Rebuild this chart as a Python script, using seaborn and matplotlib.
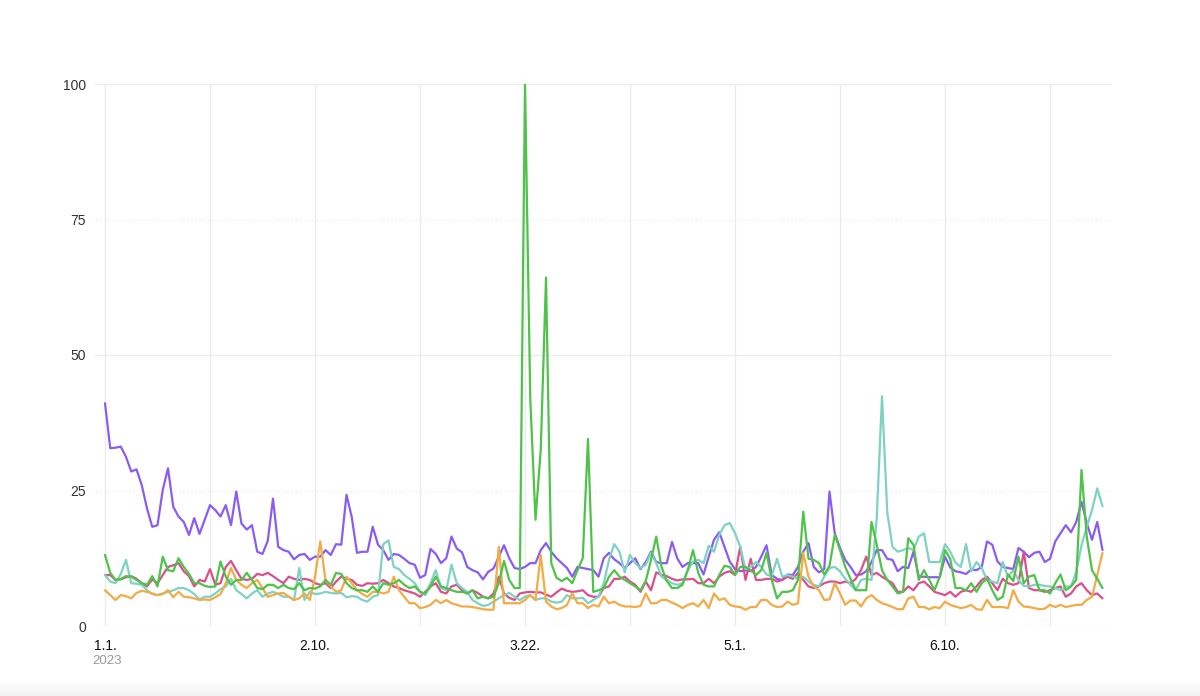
import numpy as np
import pandas as pd
import matplotlib
matplotlib.use("Agg")
import matplotlib.pyplot as plt
import seaborn as sns

# ---------------- data ----------------
start_date = "2023-01-01"
n_days = 191

purple = [41.1, 32.8, 32.9, 33.1, 31.2, 28.5, 28.9, 26.0, 21.7, 18.3,
          18.6, 25.1, 29.1, 22.0, 20.2, 19.2, 16.8, 19.9, 17.0, 19.6,
          22.3, 21.4, 20.2, 22.3, 18.6, 24.8, 18.9, 17.8, 18.6, 13.7,
          13.3, 15.7, 23.5, 14.6, 14.0, 13.7, 12.3, 13.1, 13.3, 12.2,
          12.8, 12.8, 14.0, 13.1, 15.1, 15.0, 24.2, 20.1, 13.5, 13.7,
          13.7, 18.3, 15.0, 14.0, 12.2, 13.3, 13.1, 12.4, 11.6, 11.3,
          8.9, 9.4, 14.2, 13.3, 11.6, 12.5, 16.5, 14.3, 13.6, 10.9,
          10.3, 9.9, 8.6, 10.0, 10.6, 12.8, 14.9, 12.5, 10.7, 10.5,
          10.9, 11.6, 11.6, 14.0, 15.3, 13.7, 12.5, 11.6, 10.7, 9.1,
          10.9, 10.7, 10.5, 10.3, 9.1, 12.5, 13.5, 12.3, 11.6, 10.7,
          11.6, 12.5, 10.5, 11.8, 13.7, 11.8, 11.6, 11.6, 15.5, 12.5,
          10.9, 11.6, 11.6, 11.6, 9.5, 12.8, 15.9, 17.3, 14.6, 11.9,
          10.5, 10.1, 10.3, 10.1, 10.9, 12.8, 14.9, 9.4, 8.7, 8.5,
          9.5, 9.4, 10.9, 13.7, 15.3, 10.9, 9.9, 10.5, 24.8, 17.1,
          14.4, 12.2, 10.9, 9.4, 9.5, 10.1, 11.8, 14.0, 14.0, 12.4,
          12.2, 10.1, 10.9, 10.7, 13.7, 9.1, 9.1, 9.0, 9.0, 9.0,
          12.8, 10.8, 10.1, 9.9, 9.6, 10.4, 10.3, 10.9, 15.6, 15.0,
          11.9, 10.9, 10.7, 10.5, 14.4, 13.7, 12.7, 13.5, 13.7, 11.8,
          12.4, 15.6, 17.1, 18.6, 17.3, 19.2, 22.9, 19.0, 15.9, 19.2,
          14.0]

green = [13.1, 9.8, 8.5, 8.7, 9.2, 9.1, 8.5, 7.9, 7.6, 9.2,
         7.3, 12.8, 10.3, 10.1, 12.5, 10.9, 9.6, 7.9, 7.9, 7.4,
         7.2, 7.3, 11.9, 9.1, 7.6, 8.5, 8.5, 9.8, 8.5, 7.0,
         6.8, 7.6, 7.6, 7.0, 7.6, 7.0, 6.8, 7.9, 6.6, 7.0,
         6.9, 7.3, 8.5, 7.6, 9.8, 9.6, 7.9, 7.0, 6.6, 6.6,
         6.3, 7.3, 6.3, 7.9, 7.6, 7.9, 8.5, 7.6, 7.0, 7.3,
         6.3, 6.0, 7.3, 9.1, 7.3, 7.0, 6.6, 6.3, 6.3, 6.0,
         6.6, 5.1, 5.4, 5.1, 5.4, 7.9, 12.0, 8.5, 7.0, 7.0,
         100.0, 42.0, 19.6, 32.5, 64.3, 11.6, 8.9, 8.3, 8.9, 7.9,
         10.3, 12.5, 34.5, 6.3, 6.6, 7.0, 9.1, 10.3, 9.1, 8.5,
         7.9, 7.3, 6.6, 8.3, 12.2, 16.5, 10.9, 8.3, 7.0, 7.0,
         7.6, 10.3, 14.0, 9.8, 7.6, 7.3, 7.3, 9.4, 11.1, 10.9,
         9.4, 10.9, 10.9, 10.3, 9.4, 10.3, 13.5, 8.5, 5.1, 6.3,
         6.3, 6.6, 8.5, 21.1, 12.4, 12.2, 11.6, 9.5, 11.1, 16.8,
         14.0, 10.9, 8.7, 6.6, 6.6, 6.6, 19.2, 15.0, 10.3, 8.5,
         7.3, 6.0, 6.3, 16.2, 15.0, 8.5, 10.3, 8.5, 6.6, 9.1,
         14.0, 12.4, 7.0, 7.0, 6.6, 7.9, 6.3, 7.9, 8.7, 6.6,
         4.8, 5.4, 9.5, 8.3, 12.8, 7.9, 9.1, 9.4, 6.6, 6.6,
         6.0, 7.9, 9.5, 6.6, 7.3, 8.5, 28.8, 16.5, 10.3, 8.7,
         7.0]

teal = [9.4, 8.2, 7.9, 9.6, 12.2, 7.9, 7.8, 7.6, 6.6, 5.9,
        5.7, 6.0, 6.3, 6.6, 7.0, 7.0, 6.6, 5.9, 4.9, 5.4,
        5.4, 6.0, 6.8, 7.3, 8.7, 6.6, 5.9, 5.1, 6.0, 6.6,
        5.4, 6.0, 6.3, 5.9, 5.4, 5.4, 4.8, 10.7, 4.8, 6.3,
        5.9, 6.0, 6.3, 6.1, 6.0, 6.1, 5.3, 5.5, 5.4, 4.8,
        4.5, 5.4, 5.7, 15.1, 15.8, 10.9, 10.5, 9.4, 8.7, 7.9,
        6.3, 5.7, 7.9, 10.3, 7.0, 6.6, 11.3, 7.9, 7.0, 6.3,
        4.8, 4.2, 3.7, 3.9, 4.5, 5.1, 5.7, 6.1, 5.4, 4.8,
        5.4, 5.7, 4.8, 5.1, 5.1, 4.5, 4.3, 4.5, 5.7, 5.1,
        5.1, 5.2, 4.2, 4.8, 5.4, 7.9, 12.2, 15.1, 13.7, 9.9,
        13.1, 11.6, 10.7, 11.3, 13.5, 11.6, 9.1, 8.5, 7.9, 7.6,
        7.9, 10.3, 11.9, 12.2, 11.6, 14.8, 13.7, 16.8, 18.6, 19.0,
        17.1, 14.6, 10.5, 10.9, 11.8, 10.9, 9.5, 9.2, 12.4, 9.1,
        9.4, 9.1, 8.7, 9.1, 8.2, 7.6, 7.3, 9.1, 10.7, 10.9,
        10.1, 8.7, 7.6, 6.6, 8.5, 8.7, 8.5, 20.0, 42.4, 21.0,
        14.6, 13.7, 14.0, 14.4, 14.0, 16.5, 17.1, 11.8, 11.8, 11.8,
        15.1, 13.7, 11.7, 10.9, 15.1, 10.1, 11.8, 10.7, 8.5, 8.2,
        7.9, 11.8, 9.1, 10.3, 8.5, 7.4, 7.3, 7.6, 7.6, 7.4,
        7.3, 7.0, 6.6, 7.3, 7.3, 10.0, 14.9, 18.3, 21.4, 25.4,
        22.1]

pink = [9.4, 9.4, 8.5, 8.6, 9.0, 9.2, 8.7, 7.9, 7.3, 8.6,
        7.9, 9.4, 10.9, 11.2, 11.6, 10.1, 9.2, 7.3, 8.5, 8.2,
        10.5, 7.6, 7.9, 10.9, 12.0, 10.3, 8.7, 8.5, 8.7, 9.6,
        9.4, 9.8, 9.2, 8.5, 7.9, 9.1, 8.7, 8.5, 8.7, 8.5,
        7.9, 7.6, 7.9, 7.0, 8.2, 9.1, 8.7, 8.5, 7.6, 7.4,
        7.9, 7.8, 7.9, 8.5, 7.9, 7.3, 7.0, 6.6, 6.3, 6.0,
        5.4, 6.3, 7.3, 7.9, 6.3, 6.0, 7.3, 7.6, 6.6, 6.0,
        6.6, 6.1, 5.4, 5.1, 6.0, 9.1, 6.0, 5.2, 4.8, 6.0,
        6.2, 6.3, 6.2, 6.2, 5.8, 5.4, 6.2, 6.9, 6.5, 6.3,
        6.4, 6.6, 5.7, 5.4, 5.4, 7.0, 7.3, 8.7, 8.7, 9.1,
        8.2, 7.6, 6.3, 8.2, 6.6, 9.9, 9.4, 9.2, 8.7, 8.4,
        8.6, 8.6, 8.7, 7.9, 7.9, 8.7, 7.9, 9.1, 9.8, 10.1,
        9.4, 14.6, 8.5, 12.4, 8.5, 8.5, 8.7, 8.7, 8.2, 8.5,
        9.1, 8.7, 9.8, 8.5, 7.3, 7.0, 7.3, 7.9, 8.2, 8.2,
        7.9, 8.2, 7.9, 8.7, 10.3, 12.8, 9.4, 9.8, 9.1, 8.5,
        7.9, 6.3, 6.3, 7.3, 6.6, 7.9, 8.2, 7.3, 6.3, 6.0,
        5.7, 6.3, 5.4, 6.3, 6.6, 6.3, 7.3, 8.5, 9.1, 7.9,
        6.6, 8.7, 7.9, 7.6, 7.9, 13.7, 7.0, 6.6, 6.6, 6.3,
        6.6, 7.0, 7.3, 5.4, 6.0, 7.3, 7.9, 6.6, 5.7, 6.0,
        5.1]

orange = [6.6, 5.7, 4.8, 5.7, 5.5, 5.1, 6.1, 6.5, 6.3, 6.0,
          5.7, 5.9, 6.6, 5.3, 6.3, 5.4, 5.3, 5.1, 4.8, 4.9,
          4.8, 5.3, 5.9, 7.9, 10.7, 8.5, 7.6, 7.0, 7.9, 8.5,
          7.0, 5.4, 5.7, 6.0, 6.1, 5.4, 4.8, 5.1, 6.0, 4.8,
          9.0, 15.6, 8.5, 7.3, 6.3, 6.6, 9.1, 7.9, 6.6, 5.9,
          5.4, 6.3, 6.3, 6.0, 6.3, 9.1, 6.6, 5.4, 4.2, 4.2,
          3.3, 3.5, 3.9, 4.8, 4.2, 4.8, 4.2, 3.9, 3.6, 3.6,
          3.5, 3.3, 3.1, 3.0, 3.0, 14.6, 4.2, 4.2, 4.2, 4.2,
          4.8, 5.7, 4.8, 13.1, 4.5, 3.6, 3.1, 3.3, 3.9, 6.0,
          4.2, 4.2, 3.3, 3.9, 3.6, 5.4, 4.2, 4.5, 3.9, 3.6,
          3.6, 3.5, 3.7, 6.0, 4.2, 4.2, 4.8, 4.8, 4.3, 3.9,
          3.3, 3.9, 4.2, 3.6, 4.8, 3.3, 6.0, 4.8, 5.1, 3.9,
          3.6, 3.5, 3.0, 3.5, 3.5, 4.8, 4.8, 3.9, 3.5, 3.6,
          4.5, 3.9, 4.2, 13.5, 9.1, 7.3, 6.6, 4.8, 4.9, 7.9,
          6.0, 3.9, 4.7, 4.7, 3.6, 5.1, 5.7, 4.8, 4.2, 3.9,
          3.5, 3.1, 3.1, 5.1, 5.4, 3.5, 3.5, 3.1, 3.5, 3.3,
          4.5, 3.9, 3.6, 3.3, 3.5, 3.9, 3.1, 3.0, 4.8, 3.5,
          3.5, 3.5, 3.3, 6.6, 4.5, 3.6, 3.5, 3.3, 3.1, 3.2,
          3.9, 3.5, 3.9, 3.5, 3.7, 3.9, 3.9, 4.8, 5.4, 9.4,
          13.5]

series_names = ["purple", "pink", "teal", "orange", "green"]
series_values = [purple, pink, teal, orange, green]
series_colors = {"purple": "#8a5cf2", "green": "#4fc24a", "teal": "#7fd2c2",
                 "pink": "#d9508c", "orange": "#f2ab45"}

y_ticks = [0, 25, 50, 75, 100]
x_tick_dates = pd.date_range(start_date, periods=10, freq="20D")
x_tick_labels = ["1.1.", "", "2.10.", "", "3.22.", "", "5.1.", "", "6.10.", ""]
year_label = "2023"

# ---------------- frame ----------------
dates = pd.date_range(start_date, periods=n_days, freq="D")
df = pd.DataFrame({
    "date": np.tile(dates, len(series_names)),
    "value": np.concatenate([np.asarray(v, dtype=float) for v in series_values]),
    "series": np.repeat(series_names, n_days),
})

sns.set_theme(style="white")
plt.rcParams["font.family"] = ["Liberation Sans", "DejaVu Sans"]

W, H = 1200, 696
fig = plt.figure(figsize=(W / 100, H / 100), dpi=100)
fig.patch.set_facecolor("white")

# faint grey strip at the very bottom
strip = fig.add_axes([0, 0, 1, 16 / H], zorder=0)
grad = np.linspace(1.0, 0.95, 50).reshape(-1, 1)
strip.imshow(np.dstack([grad, grad, grad]), aspect="auto", extent=[0, 1, 0, 1])
strip.set_axis_off()

left, right, top, bottom = 95, 1112, 84, 626
ax = fig.add_axes([left / W, 1 - bottom / H, (right - left) / W, (bottom - top) / H], zorder=1)
ax.set_facecolor("none")

# horizontal guides
for yv in y_ticks:
    ls = "-" if yv % 50 == 0 else (0, (1, 2))
    ax.axhline(yv, color="#ececec", lw=1.0, ls=ls, zorder=0)

sns.lineplot(data=df, x="date", y="value", hue="series", hue_order=series_names,
             palette=series_colors, linewidth=1.6, estimator=None, legend=False,
             ax=ax, zorder=3)

px_per_day = 5.25
x0 = dates[0] - pd.Timedelta(days=(105 - left) / px_per_day)
x1 = dates[0] + pd.Timedelta(days=(right - 105) / px_per_day)
ax.set_xlim(x0, x1)
ax.set_ylim(0, 100)

ax.set_xticks(x_tick_dates)
ax.set_xticklabels(x_tick_labels)
ax.set_yticks(y_ticks)
ax.set_yticklabels([str(v) for v in y_ticks])
ax.grid(axis="x", color="#ececec", lw=1.0, zorder=0)
ax.grid(axis="y", visible=False)
ax.tick_params(axis="both", length=0)
ax.tick_params(axis="y", pad=6.5, labelsize=10, labelcolor="#333333")
ax.tick_params(axis="x", pad=9, labelsize=10, labelcolor="#111111")
ax.set_xlabel("")
ax.set_ylabel("")
for s in ax.spines.values():
    s.set_visible(False)

fig.text(107 / W, 1 - 661 / H, year_label, ha="center", va="center",
         fontsize=9.5, color="#9a9a9a")

fig.savefig("out.png", dpi=100, facecolor="white")
